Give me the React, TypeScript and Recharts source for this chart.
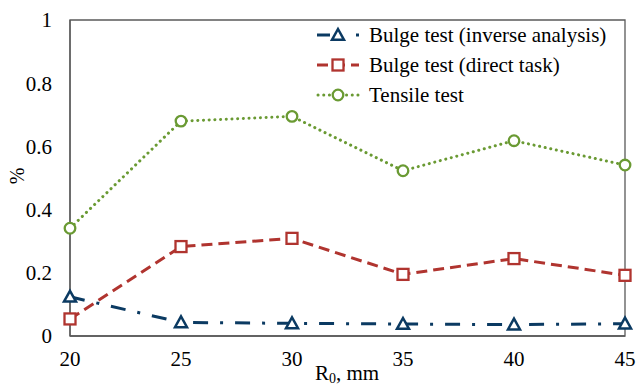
import React from "react";
import { LineChart, Line, XAxis, YAxis, ReferenceArea } from "recharts";

const radii = [20, 25, 30, 35, 40, 45];
const inverseAnalysis = [0.124, 0.043, 0.04, 0.038, 0.036, 0.039];
const directTask = [0.054, 0.283, 0.309, 0.195, 0.245, 0.192];
const tensileTest = [0.341, 0.68, 0.695, 0.523, 0.618, 0.541];
const yTicks = [0, 0.2, 0.4, 0.6, 0.8, 1];
const xTicks = [20, 25, 30, 35, 40, 45];

const data = radii.map((r, i) => ({
  r,
  inv: inverseAnalysis[i],
  dir: directTask[i],
  ten: tensileTest[i],
}));

const FONT = "Liberation Serif, serif";
const NAVY = "#0B3A62";
const RED = "#B0342F";
const GREEN = "#6A9A33";

const Tri = (props: any) => {
  const { cx, cy, stroke } = props;
  if (cx == null || cy == null) return null;
  const s = 6;
  return (
    <path
      d={`M${cx},${cy - s} L${cx + s},${cy + s * 0.8} L${cx - s},${cy + s * 0.8} Z`}
      fill="#fff"
      stroke={stroke}
      strokeWidth={2.5}
      strokeLinejoin="miter"
    />
  );
};
const Sq = (props: any) => {
  const { cx, cy, stroke } = props;
  if (cx == null || cy == null) return null;
  const s = 5.5;
  return <rect x={cx - s} y={cy - s} width={2 * s} height={2 * s} fill="#fff" stroke={stroke} strokeWidth={2.3} />;
};
const Circ = (props: any) => {
  const { cx, cy, stroke } = props;
  if (cx == null || cy == null) return null;
  return <circle cx={cx} cy={cy} r={5.3} fill="#fff" stroke={stroke} strokeWidth={2.3} />;
};

const legendItems = [
  { name: "Bulge test (inverse analysis)", color: NAVY, marker: "tri" },
  { name: "Bulge test (direct task)", color: RED, marker: "sq" },
  { name: "Tensile test", color: GREEN, marker: "circ" },
];

const LegendBox = () => (
  <div style={{ position: "absolute", left: 316, top: 20, fontFamily: FONT, fontSize: 21, color: "#000", lineHeight: "30px" }}>
    {legendItems.map((it, i) => (
      <div key={i} style={{ display: "flex", alignItems: "center", height: 30 }}>
        <svg width={46} height={20} style={{ marginRight: 7 }}>
          {it.marker === "tri" ? (
            <>
              <line x1={1} y1={10} x2={14} y2={10} stroke={it.color} strokeWidth={3} />
              <line x1={40} y1={10} x2={43} y2={10} stroke={it.color} strokeWidth={3} />
              <Tri cx={22} cy={10} stroke={it.color} />
            </>
          ) : it.marker === "sq" ? (
            <>
              <line x1={1} y1={10} x2={43} y2={10} stroke={it.color} strokeWidth={3} strokeDasharray="11 6" />
              <Sq cx={22} cy={10} stroke={it.color} />
            </>
          ) : (
            <>
              <line x1={2} y1={10} x2={43} y2={10} stroke={it.color} strokeWidth={3} strokeDasharray="0.1 5.6" strokeLinecap="round" />
              <Circ cx={22} cy={10} stroke={it.color} />
            </>
          )}
        </svg>
        <span>{it.name}</span>
      </div>
    ))}
  </div>
);

const XTitle = () => (
  <text x={315} y={380} fontFamily={FONT} fontSize={21} fill="#000">
    R<tspan dy={3} fontSize={14}>0</tspan>
    <tspan dy={-3}>, mm</tspan>
  </text>
);

const YTitle = () => (
  <text x={19} y={176} fontFamily={FONT} fontSize={20} fill="#000" textAnchor="middle" transform="rotate(-90 19 176)" dominantBaseline="middle">
    %
  </text>
);

export default function App() {
  return (
    <div style={{ position: "absolute", left: 0, top: 0, width: 636, height: 388, background: "#fff" }}>
      <LineChart width={636} height={388} data={data} margin={{ top: 20, right: 11, bottom: 22, left: 0 }}>
        <XAxis
          dataKey="r"
          type="number"
          domain={[20, 45]}
          ticks={xTicks}
          tickLine={false}
          tickSize={6}
          tickMargin={9}
          height={30}
          axisLine={{ stroke: "#595959", strokeWidth: 1.3 }}
          tick={{ fontFamily: FONT, fontSize: 21, fill: "#000" }}
          label={<XTitle />}
        />
        <YAxis
          type="number"
          domain={[0, 1]}
          ticks={yTicks}
          width={70}
          tickLine={false}
          tickSize={6}
          tickMargin={12}
          axisLine={{ stroke: "#595959", strokeWidth: 1.3 }}
          tick={{ fontFamily: FONT, fontSize: 21, fill: "#000" }}
          tickFormatter={(v: number) => String(v)}
          label={<YTitle />}
        />
        <ReferenceArea x1={20} x2={45} y1={0} y2={1} fill="none" stroke="#595959" strokeWidth={1.3} />
        <Line
          dataKey="ten"
          stroke={GREEN}
          strokeWidth={3}
          strokeDasharray="0.1 5.6"
          strokeLinecap="round"
          dot={<Circ />}
          isAnimationActive={false}
        />
        <Line
          dataKey="dir"
          stroke={RED}
          strokeWidth={3}
          strokeDasharray="11 6"
          dot={<Sq />}
          isAnimationActive={false}
        />
        <Line
          dataKey="inv"
          stroke={NAVY}
          strokeWidth={3}
          strokeDasharray="15 12 3 12"
          dot={<Tri />}
          isAnimationActive={false}
        />
      </LineChart>
      <LegendBox />
    </div>
  );
}
